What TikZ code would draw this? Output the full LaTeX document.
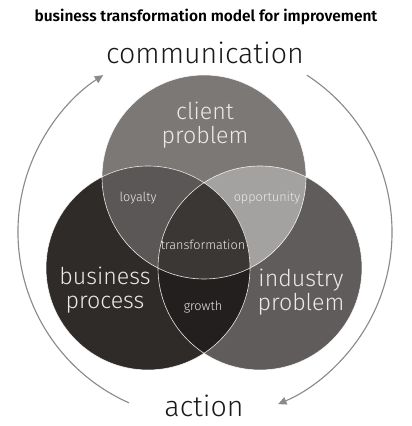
\documentclass[tikz,border=0pt]{standalone}
\usepackage{fontspec}
\setmainfont{Fira Sans}[UprightFont=* Light, BoldFont=* SemiBold]
\usetikzlibrary{arrows.meta, positioning, calc}

\definecolor{clientgray}{HTML}{7B7876}
\definecolor{processgray}{HTML}{2E2B29}
\definecolor{industrygray}{HTML}{5F5C5B}
\definecolor{loyaltygray}{HTML}{5A5756}
\definecolor{opportunitygray}{HTML}{A4A2A1}
\definecolor{growthgray}{HTML}{221F1E}
\definecolor{transformgray}{HTML}{3A3735}
\definecolor{cyclegray}{HTML}{8C8A89}
\definecolor{labelwhite}{HTML}{ECEAE8}

\tikzset{
  cycle arrow/.style={draw=cyclegray, line width=0.8pt, -{Triangle[length=6pt, width=5.5pt]}},
  big label/.style={text=labelwhite, font=\fontsize{16.5}{17}\selectfont, align=center},
  small label/.style={text=labelwhite, font=\fontsize{9}{10}\selectfont},
  cycle label/.style={text=black!90, font=\fontsize{20.3}{21}\selectfont},
  rim/.style={draw=white, line width=0.45pt, opacity=0.85}
}

\begin{document}
\begin{tikzpicture}[x=0.025cm, y=0.025cm]
\useasboundingbox (0,0) rectangle (412,426);
\def\rad{102}

\coordinate (client) at (204,249);
\coordinate (process) at (148,158);
\coordinate (industry) at (260,158);
\coordinate (hub) at (205,194);

% circles
\fill[clientgray] (client) circle (\rad);
\fill[processgray] (process) circle (\rad);
\fill[industrygray] (industry) circle (\rad);

% overlaps
\begin{scope}
  \clip (client) circle (\rad);
  \fill[loyaltygray] (process) circle (\rad);
  \fill[opportunitygray] (industry) circle (\rad);
\end{scope}
\begin{scope}
  \clip (process) circle (\rad);
  \fill[growthgray] (industry) circle (\rad);
  \clip (industry) circle (\rad);
  \fill[transformgray] (client) circle (\rad);
\end{scope}

\draw[rim] (client) circle (\rad);
\draw[rim] (process) circle (\rad);
\draw[rim] (industry) circle (\rad);

% cycle
\draw[cycle arrow] ($(hub)+(246:187)$) arc[start angle=246, end angle=123, radius=187];
\draw[cycle arrow] ($(hub)+(57:187)$) arc[start angle=57, end angle=-67, radius=187];

% labels
\node[font=\bfseries\fontsize{11}{12}\selectfont] (title) at (206,409) {business transformation model for improvement};
\node[cycle label] (communication) at (205,373) {communication};
\node[cycle label] (action) at (204,20) {action};

\node[big label] (clientlbl) at (205,301) {client\\problem};
\node[big label] (processlbl) at (105,136) {business\\process};
\node[big label] (industrylbl) at (301,134) {industry\\problem};

\node[small label] (loyalty) at (138,228) {loyalty};
\node[small label] (opportunity) at (267,228) {opportunity};
\node[small label] (transformation) at (203,181) {transformation};
\node[small label] (growth) at (203,119) {growth};
\end{tikzpicture}
\end{document}
